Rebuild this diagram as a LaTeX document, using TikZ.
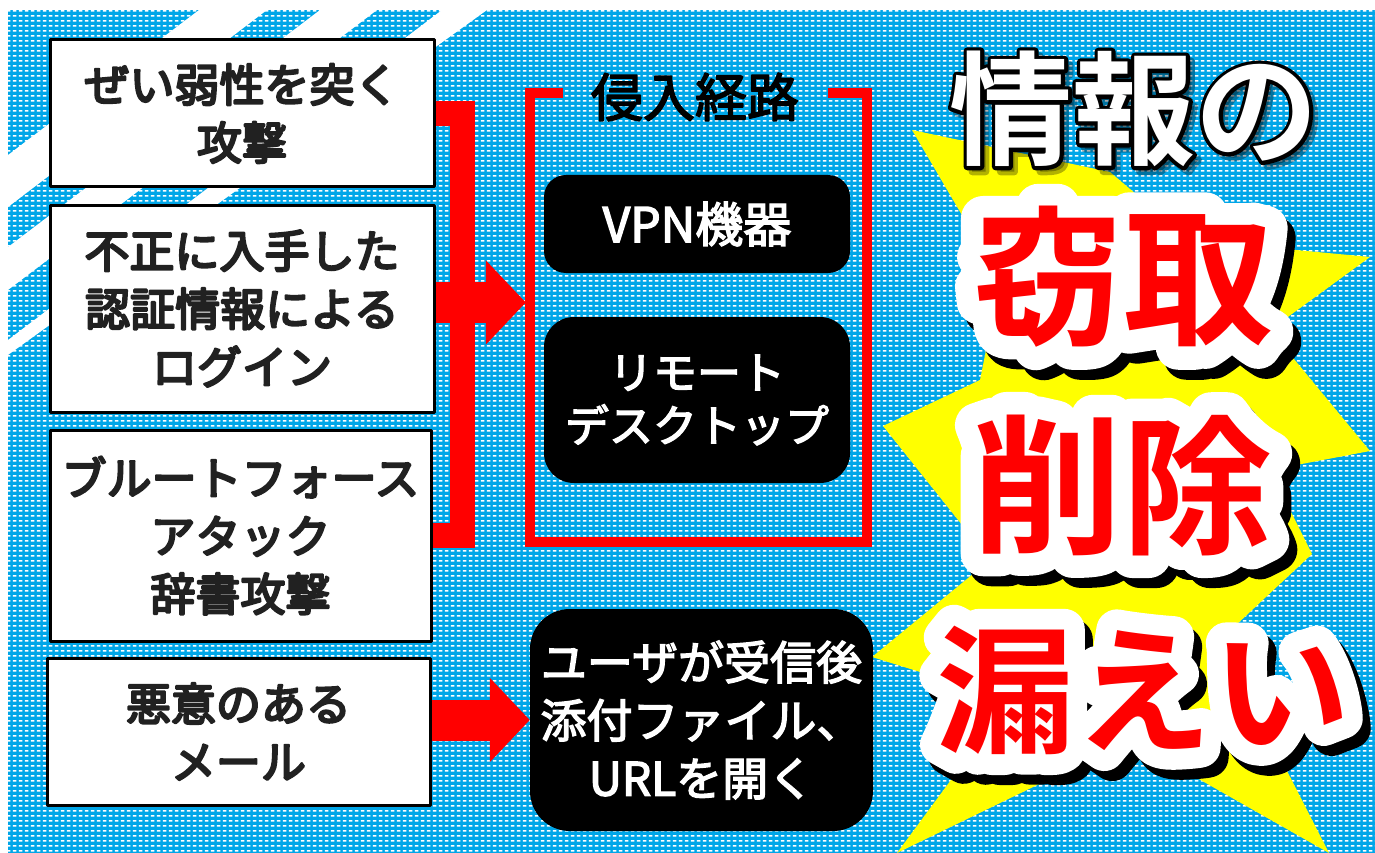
\documentclass[tikz,border=0pt]{standalone}
\usepackage{fontspec}
\usetikzlibrary{arrows.meta,patterns,positioning}
\newfontfamily\jp{Noto Sans CJK JP}[FakeBold=3]
\newfontfamily\jpbox{Noto Sans CJK JP}[FakeBold=5]
\newfontfamily\jpbig{Noto Sans CJK JP Bold}
\newfontfamily\jpline{Noto Sans CJK JP Bold}[FakeBold=6]
\newfontfamily\jpedge{Noto Sans CJK JP Bold}[FakeBold=30]

\definecolor{skyblue}{RGB}{0,166,232}
\definecolor{alarmred}{RGB}{255,0,0}
\definecolor{burst}{RGB}{255,255,0}
\definecolor{ink}{gray}{0.13}

\pgfdeclarepatternformonly{dashgrid}{\pgfqpoint{0pt}{0pt}}{\pgfqpoint{6pt}{5pt}}{\pgfqpoint{6pt}{5pt}}{%
  \pgfpathrectangle{\pgfqpoint{1pt}{1.7pt}}{\pgfqpoint{4pt}{1.6pt}}\pgfusepath{fill}}

\tikzset{
  attack/.style={draw=black, line width=3pt, fill=white, text=ink, align=center, inner sep=0pt,
    line join=round, font=\jpbox\fontsize{45pt}{58pt}\selectfont},
  routebox/.style={fill=black, text=white, align=center, inner sep=0pt,
    font=\jp\fontsize{44pt}{53pt}\selectfont},
  bracketline/.style={draw=alarmred, line width=25pt},
  bigarrow/.style={draw=alarmred, line width=41pt, -{Triangle[length=40pt,width=82pt]}},
  routeframe/.style={draw=alarmred, line width=10pt},
  headshadow/.style={text=black, opacity=0.3, line join=round, font=\jpline\fontsize{123pt}{123pt}\selectfont},
  headline/.style={text=black, line join=round, font=\jpline\fontsize{123pt}{123pt}\selectfont},
  headfill/.style={text=white, font=\jpbig\fontsize{123pt}{123pt}\selectfont},
  shoutshadow/.style={text=black, line join=round, font=\jpedge\fontsize{#1}{#1}\selectfont},
  shoutedge/.style={text=white, line join=round, font=\jpedge\fontsize{#1}{#1}\selectfont},
  shoutfill/.style={text=alarmred, font=\jpbig\fontsize{#1}{#1}\selectfont},
}

\begin{document}
\begin{tikzpicture}[x=1pt,y=-1pt]
	\useasboundingbox (0,0) rectangle (1375,853);
	\fill[white] (0,0) rectangle (1375,853);
	% dotted blue ground
	\fill[skyblue] (8,10) rectangle (1375,853);
	\fill[pattern=dashgrid, pattern color=white] (8,10) rectangle (1375,853);
	\begin{scope}
		\clip (8,10) -- (487,10) -- (8,355) -- cycle;
		\fill[white] (8,155) -- (199,10) -- (267,10) -- (8,207) -- cycle;
		\fill[white] (8,247) -- (320,10) -- (377,10) -- (8,290) -- cycle;
		\fill[white] (8,340) -- (442,10) -- (520,10) -- (8,400) -- cycle;
	\end{scope}
	
	% star burst
	\fill[burst] (912,130) -- (1110,172) -- (1190,240) -- (1370,257) -- (1270,330)
		-- (1370,451) -- (1270,470) -- (1312,554) -- (1220,640) -- (1329,853)
		-- (1130,740) -- (897,853) -- (1010,700) -- (872,657) -- (990,560)
		-- (883,426) -- (980,380) -- (1000,280) -- cycle;
	
	% attacks
	\node[attack, minimum width=384pt, minimum height=147pt] at (242,113.5) (b1) {ぜい弱性を突く\\攻撃};
	\node[attack, minimum width=384pt, minimum height=207pt] at (242,308.5) (b2) {不正に入手した\\認証情報による\\ログイン};
	\node[attack, minimum width=381pt, minimum height=211pt] at (240.5,535.5) (b3) {ブルートフォース\\アタック\\辞書攻撃};
	\node[attack, minimum width=383pt, minimum height=147pt] at (238.5,731.5) (b4) {悪意のある\\メール};
	
	% routes
	\node[minimum width=337pt, minimum height=449pt, inner sep=0pt] at (698.5,317.5) (frame) {};
	\node[text=black, line join=round, font=\jp\fontsize{52pt}{60pt}\selectfont] at (695,97) (routetitle) {侵入経路};
	\draw[routeframe] ([shift={(33,0)}]frame.north west) -- (frame.north west) -- (frame.south west)
		-- (frame.south east) -- (frame.north east) -- ([shift={(-39,0)}]frame.north east);
	\node[routebox, minimum width=306pt, minimum height=98pt, rounded corners=22pt,
		font=\jp\fontsize{48pt}{53pt}\selectfont] at (697,224) (vpn) {VPN機器};
	\node[routebox, minimum width=306pt, minimum height=166pt, rounded corners=30pt] at (697,400) (rdp) {リモート\\デスクトップ};
	\node[routebox, minimum width=343pt, minimum height=222pt, rounded corners=40pt,
		font=\jp\fontsize{46pt}{58pt}\selectfont] at (701.5,720) (mail) {ユーザが受信後\\添付ファイル、\\URLを開く};
	
	% connectors
	\coordinate (jn) at (462.5,302.5);
	\coordinate (routein) at ([shift={(-4,0)}]frame.west);
	\draw[bracketline] (b1.east) -| (jn) |- (b3.east);
	\draw[bigarrow] (b2.east |- jn) -- (routein |- jn);
	\draw[bigarrow] (b4.east |- mail.west) -- (mail.west);
	
	% headline
	\node[headshadow] at (1139,114) (head0) {情報の};
	\node[headline] at (1134,109) (head1) {情報の};
	\node[headfill] at (1134,109) (head) {情報の};
	
	\node[shoutshadow=150pt] at (1131,287) (steal0) {窃取};
	\node[shoutedge=150pt] at (1123,277) (steal1) {窃取};
	\node[shoutfill=150pt] at (1123,277) (steal) {窃取};
	
	\node[shoutshadow=150pt] at (1130,495) (erase0) {削除};
	\node[shoutedge=150pt] at (1122,485) (erase1) {削除};
	\node[shoutfill=150pt] at (1122,485) (erase) {削除};
	
	\node[shoutshadow=138pt] at (1151,700) (leak0) {漏えい};
	\node[shoutedge=138pt] at (1143,690) (leak1) {漏えい};
	\node[shoutfill=138pt] at (1143,690) (leak) {漏えい};
\end{tikzpicture}
\end{document}
